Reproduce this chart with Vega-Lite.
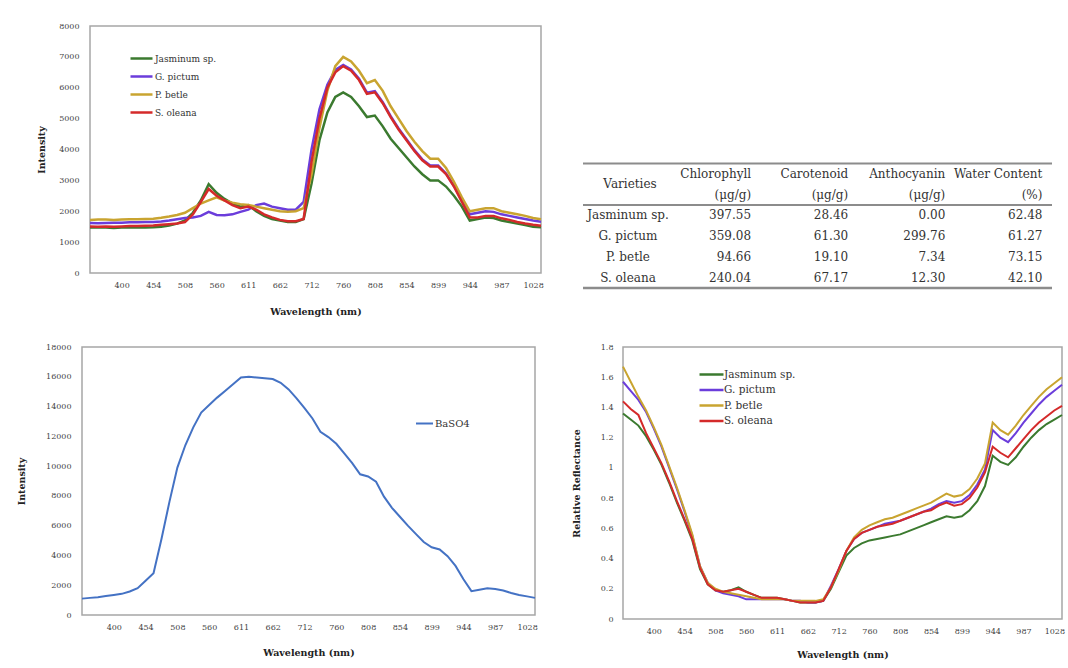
{
  "$schema": "https://vega.github.io/schema/vega-lite/v6.json",
  "background": "white",
  "padding": {"left": 15, "top": 21, "right": 4, "bottom": 4},
  "config": {
    "font": "DejaVu Serif",
    "view": {"stroke": "#a6a6a6", "strokeWidth": 1.5},
    "axis": {"labelFont": "DejaVu Serif", "labelFontSize": 8, "labelColor": "#444", "titleFont": "DejaVu Serif", "titleFontSize": 9.5, "titleFontWeight": "bold", "titleColor": "#222", "grid": false, "ticks": false, "domain": false},
    "legend": {"labelFont": "DejaVu Serif", "labelColor": "#333"}
  },
  "datasets": {
    "top": [
      {"w":346,"J":1470,"G":1620,"P":1720,"S":1510},
      {"w":360,"J":1480,"G":1610,"P":1730,"S":1500},
      {"w":373,"J":1470,"G":1620,"P":1730,"S":1510},
      {"w":387,"J":1460,"G":1630,"P":1720,"S":1500},
      {"w":400,"J":1470,"G":1630,"P":1730,"S":1510},
      {"w":414,"J":1480,"G":1640,"P":1740,"S":1520},
      {"w":427,"J":1470,"G":1640,"P":1740,"S":1520},
      {"w":441,"J":1470,"G":1650,"P":1750,"S":1530},
      {"w":454,"J":1480,"G":1650,"P":1760,"S":1540},
      {"w":468,"J":1500,"G":1670,"P":1790,"S":1560},
      {"w":481,"J":1540,"G":1700,"P":1830,"S":1580},
      {"w":495,"J":1600,"G":1740,"P":1880,"S":1600},
      {"w":508,"J":1700,"G":1780,"P":1950,"S":1650},
      {"w":521,"J":1950,"G":1800,"P":2100,"S":1900},
      {"w":534,"J":2350,"G":1850,"P":2250,"S":2300},
      {"w":547,"J":2880,"G":1980,"P":2350,"S":2720},
      {"w":560,"J":2600,"G":1880,"P":2450,"S":2500},
      {"w":573,"J":2400,"G":1870,"P":2350,"S":2350},
      {"w":586,"J":2250,"G":1900,"P":2280,"S":2200},
      {"w":598,"J":2150,"G":1980,"P":2230,"S":2100},
      {"w":611,"J":2200,"G":2050,"P":2200,"S":2150},
      {"w":624,"J":2000,"G":2200,"P":2150,"S":2050},
      {"w":637,"J":1850,"G":2250,"P":2100,"S":1900},
      {"w":649,"J":1750,"G":2150,"P":2050,"S":1800},
      {"w":662,"J":1700,"G":2100,"P":2000,"S":1720},
      {"w":675,"J":1650,"G":2050,"P":1980,"S":1680},
      {"w":687,"J":1650,"G":2050,"P":2000,"S":1680},
      {"w":700,"J":1750,"G":2300,"P":2100,"S":1750},
      {"w":712,"J":2900,"G":4000,"P":3200,"S":3600},
      {"w":724,"J":4300,"G":5300,"P":4700,"S":5000},
      {"w":736,"J":5200,"G":6100,"P":5900,"S":6000},
      {"w":748,"J":5700,"G":6580,"P":6700,"S":6500},
      {"w":760,"J":5850,"G":6740,"P":7000,"S":6700},
      {"w":772,"J":5700,"G":6590,"P":6850,"S":6550},
      {"w":784,"J":5400,"G":6290,"P":6550,"S":6250},
      {"w":796,"J":5050,"G":5840,"P":6150,"S":5800},
      {"w":808,"J":5100,"G":5890,"P":6250,"S":5850},
      {"w":820,"J":4750,"G":5530,"P":5900,"S":5500},
      {"w":831,"J":4350,"G":5080,"P":5400,"S":5050},
      {"w":843,"J":4050,"G":4680,"P":5000,"S":4650},
      {"w":854,"J":3750,"G":4330,"P":4600,"S":4300},
      {"w":865,"J":3450,"G":3980,"P":4250,"S":3950},
      {"w":876,"J":3200,"G":3680,"P":3950,"S":3650},
      {"w":888,"J":3000,"G":3480,"P":3700,"S":3450},
      {"w":899,"J":3000,"G":3480,"P":3700,"S":3450},
      {"w":910,"J":2800,"G":3220,"P":3400,"S":3200},
      {"w":922,"J":2500,"G":2820,"P":2950,"S":2800},
      {"w":933,"J":2150,"G":2350,"P":2450,"S":2300},
      {"w":944,"J":1700,"G":1900,"P":2000,"S":1800},
      {"w":955,"J":1750,"G":1950,"P":2050,"S":1800},
      {"w":966,"J":1800,"G":2000,"P":2100,"S":1850},
      {"w":976,"J":1780,"G":1980,"P":2100,"S":1850},
      {"w":987,"J":1700,"G":1900,"P":2000,"S":1770},
      {"w":997,"J":1650,"G":1850,"P":1950,"S":1720},
      {"w":1008,"J":1600,"G":1800,"P":1900,"S":1650},
      {"w":1018,"J":1550,"G":1750,"P":1850,"S":1600},
      {"w":1028,"J":1500,"G":1700,"P":1780,"S":1560},
      {"w":1038,"J":1480,"G":1660,"P":1740,"S":1530}
    ],
    "baso4": [
      {"w":346,"BaSO4":1100},{"w":360,"BaSO4":1150},{"w":373,"BaSO4":1200},{"w":387,"BaSO4":1280},
      {"w":400,"BaSO4":1350},{"w":414,"BaSO4":1420},{"w":427,"BaSO4":1580},{"w":441,"BaSO4":1800},
      {"w":454,"BaSO4":2300},{"w":468,"BaSO4":2800},{"w":481,"BaSO4":5100},{"w":495,"BaSO4":7600},
      {"w":508,"BaSO4":9900},{"w":521,"BaSO4":11400},{"w":534,"BaSO4":12600},{"w":547,"BaSO4":13600},
      {"w":560,"BaSO4":14100},{"w":573,"BaSO4":14600},{"w":586,"BaSO4":15050},{"w":598,"BaSO4":15500},
      {"w":611,"BaSO4":15950},{"w":624,"BaSO4":16000},{"w":637,"BaSO4":15950},{"w":649,"BaSO4":15900},
      {"w":662,"BaSO4":15850},{"w":675,"BaSO4":15600},{"w":687,"BaSO4":15150},{"w":700,"BaSO4":14550},
      {"w":712,"BaSO4":13900},{"w":724,"BaSO4":13200},{"w":736,"BaSO4":12300},{"w":748,"BaSO4":11950},
      {"w":760,"BaSO4":11500},{"w":772,"BaSO4":10850},{"w":784,"BaSO4":10200},{"w":796,"BaSO4":9450},
      {"w":808,"BaSO4":9300},{"w":820,"BaSO4":8950},{"w":831,"BaSO4":7950},{"w":843,"BaSO4":7200},
      {"w":854,"BaSO4":6600},{"w":865,"BaSO4":6000},{"w":876,"BaSO4":5450},{"w":888,"BaSO4":4900},
      {"w":899,"BaSO4":4550},{"w":910,"BaSO4":4400},{"w":922,"BaSO4":3950},{"w":933,"BaSO4":3300},
      {"w":944,"BaSO4":2400},{"w":955,"BaSO4":1600},{"w":966,"BaSO4":1700},{"w":976,"BaSO4":1800},
      {"w":987,"BaSO4":1750},{"w":997,"BaSO4":1650},{"w":1008,"BaSO4":1480},{"w":1018,"BaSO4":1350},
      {"w":1028,"BaSO4":1250},{"w":1038,"BaSO4":1150}
    ],
    "refl": [
      {"w":346,"J":1.36,"G":1.57,"P":1.67,"S":1.44},
      {"w":360,"J":1.32,"G":1.51,"P":1.57,"S":1.39},
      {"w":373,"J":1.28,"G":1.45,"P":1.47,"S":1.35},
      {"w":387,"J":1.21,"G":1.37,"P":1.38,"S":1.23},
      {"w":400,"J":1.12,"G":1.26,"P":1.27,"S":1.13},
      {"w":414,"J":1.02,"G":1.14,"P":1.15,"S":1.03},
      {"w":427,"J":0.90,"G":1.00,"P":1.01,"S":0.91},
      {"w":441,"J":0.77,"G":0.86,"P":0.87,"S":0.78},
      {"w":454,"J":0.65,"G":0.71,"P":0.72,"S":0.66},
      {"w":468,"J":0.52,"G":0.55,"P":0.56,"S":0.53},
      {"w":481,"J":0.33,"G":0.35,"P":0.35,"S":0.34},
      {"w":495,"J":0.23,"G":0.24,"P":0.24,"S":0.23},
      {"w":508,"J":0.19,"G":0.19,"P":0.20,"S":0.19},
      {"w":521,"J":0.18,"G":0.17,"P":0.18,"S":0.18},
      {"w":534,"J":0.19,"G":0.16,"P":0.17,"S":0.19},
      {"w":547,"J":0.21,"G":0.15,"P":0.16,"S":0.20},
      {"w":560,"J":0.18,"G":0.13,"P":0.15,"S":0.18},
      {"w":573,"J":0.16,"G":0.13,"P":0.14,"S":0.16},
      {"w":586,"J":0.14,"G":0.13,"P":0.13,"S":0.14},
      {"w":598,"J":0.14,"G":0.13,"P":0.13,"S":0.14},
      {"w":611,"J":0.14,"G":0.13,"P":0.13,"S":0.14},
      {"w":624,"J":0.13,"G":0.13,"P":0.13,"S":0.13},
      {"w":637,"J":0.12,"G":0.12,"P":0.12,"S":0.12},
      {"w":649,"J":0.11,"G":0.12,"P":0.12,"S":0.11},
      {"w":662,"J":0.11,"G":0.11,"P":0.12,"S":0.11},
      {"w":675,"J":0.11,"G":0.11,"P":0.12,"S":0.11},
      {"w":687,"J":0.12,"G":0.12,"P":0.13,"S":0.12},
      {"w":700,"J":0.20,"G":0.22,"P":0.21,"S":0.21},
      {"w":712,"J":0.31,"G":0.33,"P":0.32,"S":0.33},
      {"w":724,"J":0.42,"G":0.45,"P":0.45,"S":0.45},
      {"w":736,"J":0.47,"G":0.53,"P":0.54,"S":0.53},
      {"w":748,"J":0.50,"G":0.57,"P":0.59,"S":0.57},
      {"w":760,"J":0.52,"G":0.59,"P":0.62,"S":0.59},
      {"w":772,"J":0.53,"G":0.61,"P":0.64,"S":0.61},
      {"w":784,"J":0.54,"G":0.63,"P":0.66,"S":0.62},
      {"w":796,"J":0.55,"G":0.64,"P":0.67,"S":0.63},
      {"w":808,"J":0.56,"G":0.65,"P":0.69,"S":0.65},
      {"w":820,"J":0.58,"G":0.67,"P":0.71,"S":0.67},
      {"w":831,"J":0.60,"G":0.69,"P":0.73,"S":0.69},
      {"w":843,"J":0.62,"G":0.71,"P":0.75,"S":0.71},
      {"w":854,"J":0.64,"G":0.73,"P":0.77,"S":0.72},
      {"w":865,"J":0.66,"G":0.76,"P":0.80,"S":0.75},
      {"w":876,"J":0.68,"G":0.78,"P":0.83,"S":0.77},
      {"w":888,"J":0.67,"G":0.77,"P":0.81,"S":0.75},
      {"w":899,"J":0.68,"G":0.78,"P":0.82,"S":0.76},
      {"w":910,"J":0.72,"G":0.82,"P":0.86,"S":0.80},
      {"w":922,"J":0.78,"G":0.89,"P":0.93,"S":0.87},
      {"w":933,"J":0.88,"G":0.99,"P":1.03,"S":0.97},
      {"w":944,"J":1.08,"G":1.25,"P":1.30,"S":1.14},
      {"w":955,"J":1.04,"G":1.20,"P":1.25,"S":1.10},
      {"w":966,"J":1.02,"G":1.17,"P":1.22,"S":1.07},
      {"w":976,"J":1.07,"G":1.23,"P":1.28,"S":1.13},
      {"w":987,"J":1.14,"G":1.30,"P":1.35,"S":1.19},
      {"w":997,"J":1.20,"G":1.36,"P":1.41,"S":1.25},
      {"w":1008,"J":1.25,"G":1.42,"P":1.47,"S":1.30},
      {"w":1018,"J":1.29,"G":1.47,"P":1.52,"S":1.34},
      {"w":1028,"J":1.32,"G":1.51,"P":1.56,"S":1.38},
      {"w":1038,"J":1.35,"G":1.55,"P":1.60,"S":1.41}
    ],
    "tab": [
      {"r":"h1","C":"Chlorophyll","Ca":"Carotenoid","A":"Anthocyanin","W":"Water Content"},
      {"r":"h2","C":"(μg/g)","Ca":"(μg/g)","A":"(μg/g)","W":"(%)"},
      {"r":"r1","V":"Jasminum sp.","C":"397.55","Ca":"28.46","A":"0.00","W":"62.48"},
      {"r":"r2","V":"G. pictum","C":"359.08","Ca":"61.30","A":"299.76","W":"61.27"},
      {"r":"r3","V":"P. betle","C":"94.66","Ca":"19.10","A":"7.34","W":"73.15"},
      {"r":"r4","V":"S. oleana","C":"240.04","Ca":"67.17","A":"12.30","W":"42.10"}
    ]
  },
  "vconcat": [
    {
      "hconcat": [
        {"width": 1, "height": 1, "view": {"stroke": null}, "data": {"values": [{"a": 1}]}, "mark": {"type": "point", "opacity": 0}, "encoding": {}},
        {
          "width": 451, "height": 247,
          "data": {"name": "top"},
          "transform": [{"fold": ["J", "G", "P", "S"], "as": ["k", "v"]}],
          "mark": {"type": "line", "strokeWidth": 2.5},
          "encoding": {
            "x": {"field": "w", "type": "ordinal", "scale": {"type": "point", "padding": 0},
                  "axis": {"values": [400,454,508,560,611,662,712,760,808,854,899,944,987,1028], "labelAngle": 0, "title": "Wavelength (nm)", "labelPadding": 8, "titlePadding": 17}},
            "y": {"field": "v", "type": "quantitative", "scale": {"domain": [0, 8000]},
                  "axis": {"values": [0,1000,2000,3000,4000,5000,6000,7000,8000], "format": "d", "title": "Intensity", "labelPadding": 11, "titlePadding": 12}},
            "color": {"field": "k", "type": "nominal",
                      "scale": {"domain": ["J", "G", "P", "S"], "range": ["#3b7a2f", "#6b3ddb", "#c9a430", "#d42a2a"]},
                      "legend": {"orient": "none", "legendX": 39, "legendY": 20, "title": null, "symbolType": "stroke", "symbolSize": 484, "symbolStrokeWidth": 2.5, "labelFontSize": 9, "labelOffset": 1, "rowPadding": 0,
                                 "labelExpr": "datum.label=='J'?'Jasminum sp.':datum.label=='G'?'G. pictum':datum.label=='P'?'P. betle':'S. oleana'"}}
          }
        },
        {"width": 28, "height": 1, "view": {"stroke": null}, "data": {"values": [{"a": 1}]}, "mark": {"type": "point", "opacity": 0}, "encoding": {}},
        {
          "width": 469, "height": 262,
          "view": {"stroke": null},
          "layer": [
            {
              "data": {"values": [{"r": "h1"}, {"r": "r1"}]},
              "mark": {"type": "rule", "color": "#8c8c8c", "strokeWidth": 2},
              "encoding": {"y": {"field": "r", "type": "nominal", "bandPosition": 0, "axis": null,
                                 "scale": {"type": "band", "domain": ["e1","e2","e3","e4","e5","e6","h1","h2","r1","r2","r3","r4"], "paddingInner": 0, "paddingOuter": 0.3135, "align": 1}}}
            },
            {
              "data": {"values": [{"r": "r4"}]},
              "mark": {"type": "rule", "color": "#8c8c8c", "strokeWidth": 2.5},
              "encoding": {"y": {"field": "r", "type": "nominal", "bandPosition": 1, "axis": null}}
            },
            {
              "data": {"name": "tab"},
              "transform": [{"fold": ["C", "Ca", "A", "W"], "as": ["c", "t"]}],
              "mark": {"type": "text", "align": "right", "fontSize": 12, "color": "#333"},
              "encoding": {
                "x": {"field": "c", "type": "nominal", "axis": null, "scale": {"type": "point", "domain": ["V","C","Ca","A","W"], "padding": 0.415, "align": 0.881}},
                "y": {"field": "r", "type": "nominal", "axis": null},
                "text": {"field": "t"}
              }
            },
            {
              "data": {"name": "tab"},
              "transform": [{"fold": ["V"], "as": ["c", "t"]}, {"filter": "datum.t != null"}],
              "mark": {"type": "text", "align": "center", "fontSize": 12, "color": "#333", "dx": -26},
              "encoding": {
                "x": {"field": "c", "type": "nominal", "axis": null},
                "y": {"field": "r", "type": "nominal", "axis": null},
                "text": {"field": "t"}
              }
            },
            {
              "data": {"values": [{"r": "h1", "c": "V", "t": "Varieties"}]},
              "mark": {"type": "text", "align": "center", "fontSize": 12, "color": "#333", "dx": -24},
              "encoding": {
                "x": {"field": "c", "type": "nominal", "axis": null},
                "y": {"field": "r", "type": "nominal", "bandPosition": 1, "axis": null},
                "text": {"field": "t"}
              }
            }
          ]
        }
      ],
      "spacing": 7,
      "bounds": "flush",
      "resolve": {"scale": {"x": "independent", "y": "independent", "color": "independent"}}
    },
    {
      "hconcat": [
        {
          "width": 453, "height": 268,
          "data": {"name": "baso4"},
          "mark": {"type": "line", "strokeWidth": 2},
          "encoding": {
            "x": {"field": "w", "type": "ordinal", "scale": {"type": "point", "padding": 0},
                  "axis": {"values": [400,454,508,560,611,662,712,760,808,854,899,944,987,1028], "labelAngle": 0, "title": "Wavelength (nm)", "labelPadding": 8, "titlePadding": 16}},
            "y": {"field": "BaSO4", "type": "quantitative", "scale": {"domain": [0, 18000]},
                  "axis": {"values": [0,2000,4000,6000,8000,10000,12000,14000,16000,18000], "format": "d", "title": "Intensity", "labelPadding": 11, "titlePadding": 19}},
            "color": {"datum": "BaSO4", "scale": {"range": ["#4472c4"]},
                      "legend": {"orient": "none", "legendX": 333, "legendY": 67, "title": null, "symbolType": "stroke", "symbolSize": 289, "symbolStrokeWidth": 2, "labelFontSize": 10, "labelOffset": 1}}
          }
        },
        {
          "width": 439, "height": 272,
          "data": {"name": "refl"},
          "transform": [{"fold": ["J", "G", "P", "S"], "as": ["k", "v"]}],
          "mark": {"type": "line", "strokeWidth": 2},
          "encoding": {
            "x": {"field": "w", "type": "ordinal", "scale": {"type": "point", "padding": 0},
                  "axis": {"values": [400,454,508,560,611,662,712,760,808,854,899,944,987,1028], "labelAngle": 0, "title": "Wavelength (nm)", "labelPadding": 8, "titlePadding": 14}},
            "y": {"field": "v", "type": "quantitative", "scale": {"domain": [0, 1.8]},
                  "axis": {"values": [0,0.2,0.4,0.6,0.8,1,1.2,1.4,1.6,1.8], "format": ".1~f", "title": "Relative Reflectance", "labelPadding": 10, "titlePadding": 19}},
            "color": {"field": "k", "type": "nominal",
                      "scale": {"domain": ["J", "G", "P", "S"], "range": ["#3b7a2f", "#6b3ddb", "#c9a430", "#d42a2a"]},
                      "legend": {"orient": "none", "legendX": 81, "legendY": 20, "title": null, "symbolType": "M-2,0H2", "symbolSize": 144, "symbolStrokeWidth": 2.5, "labelFontSize": 10.5, "labelOffset": 5, "rowPadding": 2.5,
                                 "labelExpr": "datum.label=='J'?'Jasminum sp.':datum.label=='G'?'G. pictum':datum.label=='P'?'P. betle':'S. oleana'"}}
          }
        }
      ],
      "spacing": 88,
      "bounds": "flush",
      "resolve": {"scale": {"x": "independent", "y": "independent", "color": "independent"}}
    }
  ],
  "spacing": 25,
  "resolve": {"scale": {"x": "independent", "y": "independent", "color": "independent"}}
}
